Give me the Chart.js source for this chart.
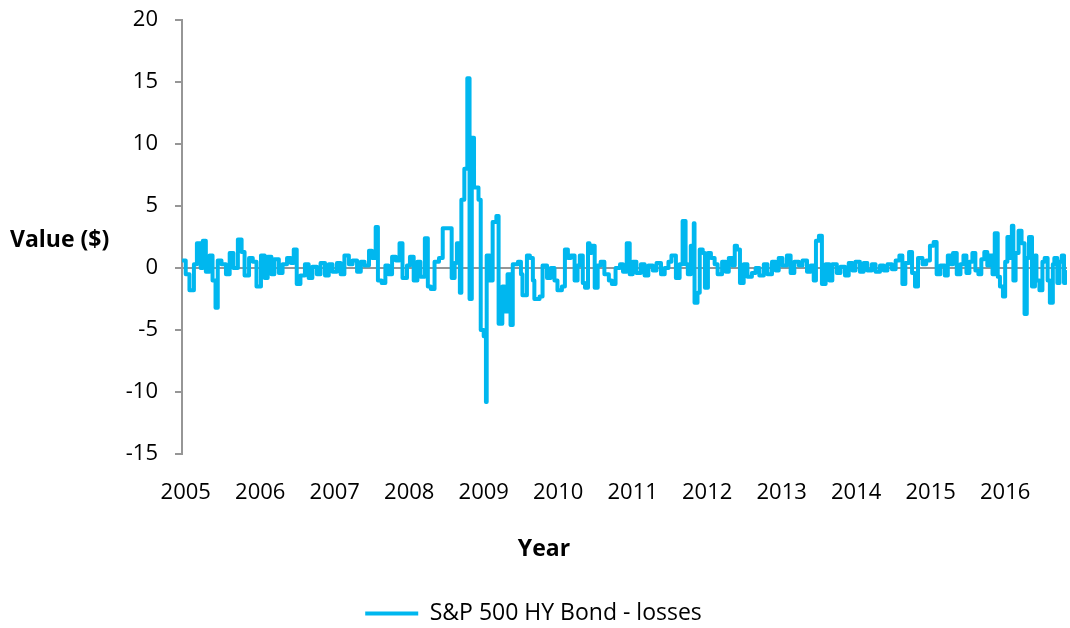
<!DOCTYPE html>
<html>
<head>
<meta charset="utf-8">
<script src="https://cdn.jsdelivr.net/npm/chart.js@4/dist/chart.umd.min.js"></script>
<style>
  html, body { margin: 0; padding: 0; background: #fff; }
  #wrap { width: 1070px; height: 628px; position: relative; }
</style>
</head>
<body>
<div id="wrap"><canvas id="c" width="1070" height="628"></canvas></div>
<script>
const seriesName = "S&P 500 HY Bond - losses";
const yAxisTitle = "Value ($)";
const xAxisTitle = "Year";
const yearTicks = [2005, 2006, 2007, 2008, 2009, 2010, 2011, 2012, 2013, 2014, 2015, 2016];

const dates = [
  2004.96, 2005.00, 2005.05, 2005.11, 2005.15, 2005.20, 2005.23, 2005.27, 2005.32, 2005.36, 2005.40, 2005.43,
  2005.48, 2005.54, 2005.59, 2005.64, 2005.70, 2005.75, 2005.79, 2005.85, 2005.90, 2005.95, 2006.01,
  2006.06, 2006.10, 2006.15, 2006.19, 2006.25, 2006.30, 2006.36, 2006.41, 2006.45, 2006.49, 2006.54,
  2006.60, 2006.65, 2006.70, 2006.76, 2006.81, 2006.87, 2006.92, 2006.97,
  2007.03, 2007.08, 2007.13, 2007.19, 2007.24, 2007.30, 2007.35, 2007.40, 2007.46, 2007.50, 2007.55,
  2007.58, 2007.63, 2007.68, 2007.72, 2007.77, 2007.82, 2007.87, 2007.91, 2007.97, 2008.01,
  2008.06, 2008.11, 2008.15, 2008.21, 2008.25, 2008.29, 2008.34, 2008.40, 2008.45, 2008.53, 2008.57,
  2008.61, 2008.64, 2008.68, 2008.70, 2008.74, 2008.78, 2008.81, 2008.84, 2008.87, 2008.93, 2008.96,
  2009.00, 2009.03, 2009.04, 2009.08,
  2009.12, 2009.17, 2009.20, 2009.25, 2009.28, 2009.32, 2009.36, 2009.39, 2009.46, 2009.50, 2009.52,
  2009.58, 2009.62, 2009.66, 2009.68, 2009.75, 2009.79, 2009.85, 2009.90, 2009.95, 2009.99,
  2010.05, 2010.09, 2010.13, 2010.17, 2010.22, 2010.26, 2010.29, 2010.33, 2010.36, 2010.40, 2010.42,
  2010.45, 2010.49, 2010.53, 2010.57, 2010.62, 2010.68, 2010.72, 2010.77, 2010.83, 2010.87, 2010.92,
  2010.96, 2011.00,
  2011.05, 2011.11, 2011.16, 2011.21, 2011.27, 2011.32, 2011.38, 2011.43, 2011.48, 2011.52, 2011.58,
  2011.63, 2011.67, 2011.71, 2011.74, 2011.78, 2011.82, 2011.83, 2011.87, 2011.90, 2011.94, 2011.97,
  2012.01, 2012.05, 2012.10, 2012.14, 2012.20, 2012.25, 2012.29, 2012.34, 2012.37, 2012.40, 2012.44,
  2012.49, 2012.54, 2012.60, 2012.65, 2012.70, 2012.76, 2012.81, 2012.87, 2012.92, 2012.96,
  2013.01, 2013.07, 2013.12, 2013.17, 2013.23, 2013.28, 2013.34, 2013.39, 2013.43, 2013.46, 2013.50,
  2013.54, 2013.59, 2013.64, 2013.68, 2013.74, 2013.79, 2013.85, 2013.90, 2013.95, 2013.99,
  2014.05, 2014.10, 2014.15, 2014.21, 2014.26, 2014.32, 2014.37, 2014.42, 2014.48, 2014.53, 2014.58,
  2014.62, 2014.66, 2014.71, 2014.75, 2014.79, 2014.83, 2014.89, 2014.94, 2014.99,
  2015.04, 2015.08, 2015.13, 2015.19, 2015.23, 2015.27, 2015.30, 2015.35, 2015.40, 2015.44, 2015.48,
  2015.52, 2015.56, 2015.60, 2015.64, 2015.68, 2015.72, 2015.76, 2015.79, 2015.83, 2015.86, 2015.90,
  2015.93, 2015.97, 2016.00,
  2016.03, 2016.06, 2016.09, 2016.11, 2016.14, 2016.18, 2016.22, 2016.26, 2016.29, 2016.32, 2016.36,
  2016.40, 2016.42, 2016.46, 2016.50, 2016.53, 2016.57, 2016.60, 2016.64, 2016.66, 2016.70, 2016.73,
  2016.76, 2016.79, 2016.81
];

const losses = [
  0.6, -0.5, -1.8, 0.3, 2.0, 0.0, 2.2, -0.3, 1.0, -1.0, -3.2, 0.6,
  0.3, -0.5, 1.2, 0.0, 2.3, 1.3, -0.6, 0.8, 0.5, -1.5, 1.0,
  -0.8, 0.9, -0.5, 0.7, -0.4, 0.3, 0.8, 0.4, 1.5, -1.3, -0.6,
  0.3, -0.8, 0.1, -0.5, 0.4, -0.6, 0.3, -0.3,
  0.4, -0.5, 1.0, 0.3, 0.6, -0.3, 0.5, 0.2, 1.4, 0.8, 3.3,
  -1.0, -1.2, 0.2, -0.5, 0.9, 0.6, 2.0, -0.8, 0.2, 0.9,
  -1.0, 0.5, -0.7, 2.4, -1.5, -1.7, 0.5, 0.8, 3.2, 3.2, -0.8,
  0.4, 2.0, -2.0, 5.5, 8.0, 15.3, -2.5, 10.5, 6.5, 5.5, -5.0,
  -5.5, -10.8, 1.0, -1.0,
  3.7, 4.2, -4.5, -1.5, -3.5, -0.5, -4.6, 0.3, 0.5, -0.5, -2.2,
  1.0, 0.8, -1.0, -2.5, -2.3, 0.2, -0.8, 0.0, -1.0, -1.8,
  -1.5, 1.5, 0.8, 1.0, -1.0, 0.2, 1.0, -1.2, -1.6, 2.0, 1.2,
  1.8, -1.6, 0.2, 0.5, -0.5, -1.0, -1.3, 0.0, 0.3, -0.3, 2.0,
  -0.5, 0.5,
  -0.4, 0.3, -0.6, 0.2, -0.2, 0.4, -0.5, 0.0, 0.5, 1.0, -0.8,
  0.3, 3.8, 0.3, -0.5, 1.8, 3.6, -2.8, -2.0, 1.5, 1.2, -1.6,
  1.2, 0.8, 0.3, -0.5, 0.5, -0.3, 0.8, 0.2, 1.8, 1.5, -1.2,
  0.3, -0.7, -0.4, 0.0, -0.6, 0.3, -0.5, 0.5, -0.2, 0.8,
  0.2, 1.0, -0.4, 0.5, 0.2, 0.6, -0.3, 0.2, -1.0, 2.2, 2.6,
  -1.3, 0.3, -1.0, 0.3, -0.4, 0.1, -0.6, 0.4, -0.2, 0.5,
  -0.3, 0.4, -0.2, 0.3, -0.3, 0.2, -0.2, 0.3, -0.1, 0.6, 1.0,
  -1.3, 0.4, 1.3, -0.4, -1.5, 0.8, 0.3, 0.6, 1.8,
  2.1, -0.5, 0.2, -0.6, 1.0, 0.3, 1.2, -0.5, 0.3, 1.0, -0.4,
  0.5, 1.2, -0.2, -0.5, 0.7, 1.3, 0.2, 1.0, -0.5, 2.8, -0.7,
  -1.5, -2.3, 0.5,
  2.5, 0.8, 3.4, -1.0, 1.2, 3.0, 2.0, -3.7, 0.8, 2.5, -1.5,
  1.0, -1.0, -1.8, 0.5, 0.8, -1.0, -2.8, 0.3, 0.8, -1.2, 0.5,
  1.0, -1.2, -0.3
];

const LINE_COLOR = 'rgb(0,183,239)';
const AXIS_COLOR = 'rgb(150,150,150)';
const FONT = "'Open Sans', 'Liberation Sans', sans-serif";

const points = dates.map((d, i) => ({ x: d, y: losses[i] }));

const axisTitlesPlugin = {
  id: 'axisTitles',
  afterDraw(chart) {
    const ctx = chart.ctx;
    ctx.save();
    ctx.font = "bold 23px " + FONT;
    ctx.fillStyle = '#000';
    ctx.textBaseline = 'middle';
    ctx.textAlign = 'left';
    ctx.fillText(yAxisTitle, 10, 240);
    ctx.textAlign = 'center';
    ctx.fillText(xAxisTitle, 544, 549);
    ctx.restore();
  }
};

new Chart(document.getElementById('c'), {
  type: 'line',
  data: {
    datasets: [{
      label: seriesName,
      data: points,
      borderColor: LINE_COLOR,
      backgroundColor: LINE_COLOR,
      borderWidth: 4,
      pointRadius: 0,
      stepped: true,
      borderJoinStyle: 'round',
      borderCapStyle: 'round',
      tension: 0
    }]
  },
  options: {
    responsive: false,
    animation: false,
    devicePixelRatio: 1,
    layout: { padding: { top: 20, right: 3, bottom: -7, left: 0 } },
    plugins: {
      legend: {
        position: 'bottom',
        labels: {
          font: { family: FONT, size: 23 },
          color: '#000',
          boxWidth: 53,
          boxHeight: 0,
          padding: 4,
          generateLabels(chart) {
            return [{
              text: seriesName,
              strokeStyle: LINE_COLOR,
              fillStyle: LINE_COLOR,
              lineWidth: 4,
              datasetIndex: 0
            }];
          }
        }
      },
      tooltip: { enabled: false }
    },
    scales: {
      x: {
        type: 'linear',
        min: 2004.95,
        max: 2016.83,
        afterBuildTicks(scale) { scale.ticks = yearTicks.map(v => ({ value: v })); },
        afterFit(scale) { scale.height = 144; },
        border: { display: false },
        grid: { display: false, drawTicks: false },
        ticks: {
          font: { family: FONT, size: 22 },
          color: '#000',
          padding: 26,
          maxRotation: 0,
          autoSkip: false,
          callback: v => String(v)
        }
      },
      y: {
        min: -15,
        max: 20,
        afterFit(scale) { scale.width = 182; scale.paddingTop = 0; scale.paddingBottom = 0; },
        border: { display: true, color: AXIS_COLOR, width: 2 },
        grid: {
          drawOnChartArea: true,
          color: ctx => (ctx.tick && ctx.tick.value === 0 ? AXIS_COLOR : 'rgba(0,0,0,0)'),
          lineWidth: 2,
          tickColor: AXIS_COLOR,
          tickLength: 7
        },
        ticks: {
          stepSize: 5,
          font: { family: FONT, size: 22 },
          color: '#000',
          padding: 17
        }
      }
    }
  },
  plugins: [axisTitlesPlugin]
});
</script>
</body>
</html>
